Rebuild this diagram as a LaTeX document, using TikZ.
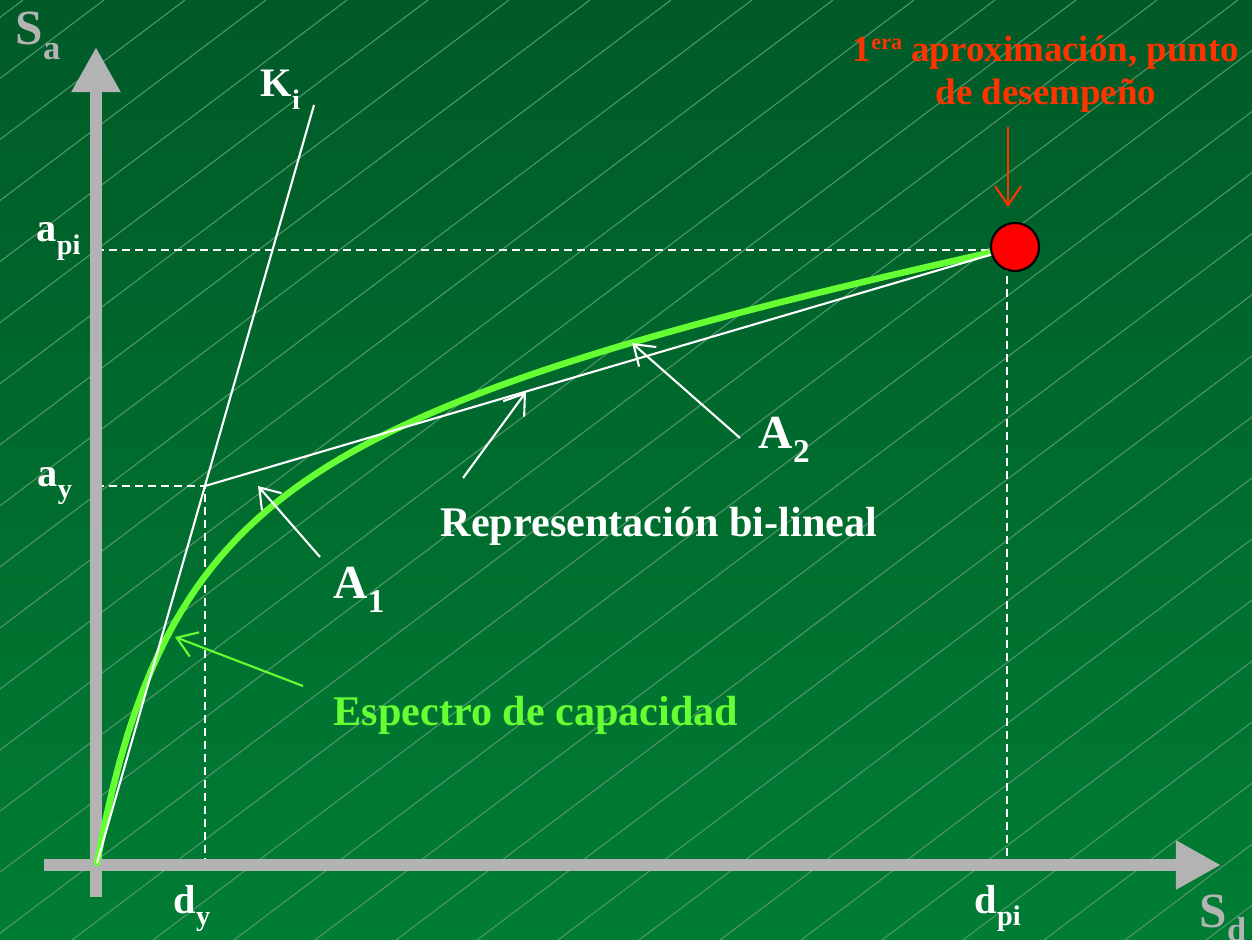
\documentclass[tikz,border=0pt]{standalone}
\usepackage{fontspec}
\setmainfont{Liberation Serif}
\usetikzlibrary{arrows.meta}
\definecolor{bgtop}{HTML}{005A28}
\definecolor{bgbot}{HTML}{007D34}
\definecolor{hatchgreen}{HTML}{52966A}
\definecolor{axgray}{HTML}{B3B3B3}
\definecolor{lime}{HTML}{66FF33}
\definecolor{redtxt}{HTML}{FF3300}
\newcommand{\subtxt}[1]{\raisebox{-0.3em}{\scalebox{0.7}{#1}}}
\newcommand{\suptxt}[1]{\raisebox{0.33em}{\scalebox{0.6}{#1}}}

\begin{document}
\begin{tikzpicture}[x=0.01cm, y=-0.01cm,
  axis/.style={axgray, line width=0.12cm, -{Triangle[width=0.46cm,length=0.45cm]}},
  guide/.style={white, line width=0.6pt, dash pattern=on 0.08cm off 0.05cm},
  thinline/.style={white, line width=0.6pt},
  pointer/.style={white, line width=0.6pt, -{Straight Barb[length=1.9mm,width=2.6mm]}},
  axlbl/.style={white, anchor=base west, inner sep=0pt, font=\bfseries\fontsize{11.5}{13}\selectfont},
  arealbl/.style={white, anchor=base west, inner sep=0pt, font=\bfseries\fontsize{13.5}{16}\selectfont},
  axname/.style={axgray, anchor=base west, inner sep=0pt, font=\bfseries\fontsize{14}{16}\selectfont},
  txtlbl/.style={white, anchor=base, inner sep=0pt, font=\bfseries\fontsize{12}{14}\selectfont}]

\useasboundingbox (0,0) rectangle (1252,940);
\shade[top color=bgtop, bottom color=bgbot] (0,0) rectangle (1252,940);
\begin{scope}
\clip (0,0) rectangle (1252,940);
\foreach \m in {-15,...,15}
  \draw[hatchgreen, line width=0.3pt] ({-9+81*\m},940) -- ++(1247,-940);
\end{scope}

% key points
\coordinate (O) at (97,863);
\coordinate (Y) at (205,486);
\coordinate (P) at (1007,250);
\coordinate (Ktop) at (314,105);
\coordinate (ay) at (96,486);
\coordinate (api) at (96,250);
\coordinate (dy) at (205,863);
\coordinate (dpi) at (1007,863);

% guides
\draw[guide] (ay) -- (Y) -- (dy);
\draw[guide] (api) -- (P) -- (dpi);

% axes
\draw[axis] (96,897) -- (96,47);
\draw[axis] (44,865) -- (1221,865);

% capacity spectrum
\draw[lime, line width=0.065cm, line cap=round] plot[domain=0:910, samples=120]
  ({97+\x}, {863-0.175*\x-502*(\x/(\x+94.3))});

% stiffness and bilinear
\draw[thinline] (O) -- (Ktop);
\draw[thinline] (Y) -- (P);

\node[circle, fill=red, draw=black, line width=0.6pt, minimum size=0.48cm, inner sep=0pt] (pt) at (1015,247) {};

% axis names
\node[axname] (Sa) at (15,45) {S\subtxt{a}};
\node[axname] (Sd) at (1199,927) {S\subtxt{d}};
\node[axlbl] (Ki) at (260,97) {K\subtxt{i}};
\node[axlbl] (apilbl) at (36,242) {a\subtxt{pi}};
\node[axlbl] (aylbl) at (37,486) {a\subtxt{y}};
\node[axlbl] (dylbl) at (173,913) {d\subtxt{y}};
\node[axlbl] (dpilbl) at (974,913) {d\subtxt{pi}};

% areas
\node[arealbl] (A1) at (333,598) {A\subtxt{1}};
\node[arealbl] (A2) at (758,448) {A\subtxt{2}};
\coordinate (a1tail) at (320,557);
\coordinate (a1head) at (258,486);
\coordinate (a2tail) at (740,438);
\coordinate (a2head) at (632,343);
\draw[pointer] (a1tail) -- (a1head);
\draw[pointer] (a2tail) -- (a2head);

% bilinear label
\node[txtlbl] (bilin) at (659,536) {Representación bi-lineal};
\coordinate (btail) at (463,478);
\coordinate (bhead) at (526,392);
\draw[pointer] (btail) -- (bhead);

% spectrum label
\node[txtlbl, lime] (espectro) at (536,725) {Espectro de capacidad};
\coordinate (etail) at (303,686);
\coordinate (ehead) at (175,637);
\draw[pointer, lime] (etail) -- (ehead);

% performance point
\node[txtlbl, redtxt, align=center, font=\bfseries\fontsize{10.5}{12.3}\selectfont] (note) at (1046,105)
  {1\suptxt{era} aproximación, punto\\de desempeño};
\coordinate (rtail) at (1008,127);
\coordinate (rhead) at (1008,207);
\draw[pointer, redtxt] (rtail) -- (rhead);

\end{tikzpicture}
\end{document}
